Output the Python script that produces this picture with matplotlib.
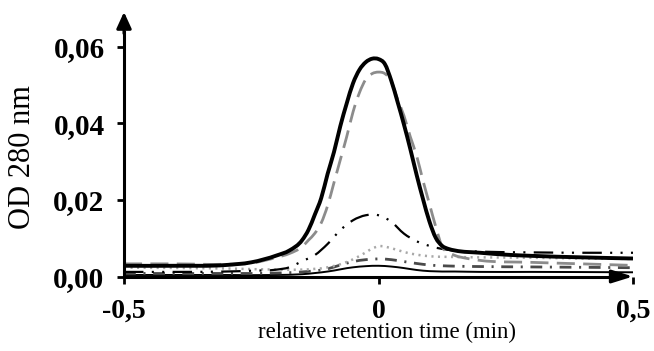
import matplotlib
matplotlib.use("Agg")
import matplotlib.pyplot as plt
from matplotlib.path import Path
from matplotlib.patches import PathPatch

plt.rcParams['font.family'] = ['Liberation Serif', 'DejaVu Serif']
plt.rcParams['lines.scale_dashes'] = False

# ---- data ----
x_black = [-0.5, -0.4, -0.3, -0.25, -0.2, -0.175, -0.15, -0.1375, -0.125, -0.1125, -0.1,
           -0.0875, -0.075, -0.0625, -0.05, -0.0375, -0.025, -0.0125, 0.0, 0.0125, 0.025,
           0.0375, 0.05, 0.0625, 0.075, 0.0875, 0.1, 0.1125, 0.125, 0.1375, 0.15, 0.2,
           0.25, 0.3, 0.4, 0.5]
y_black = [0.0028, 0.0028, 0.0030, 0.0037, 0.0055, 0.0068, 0.0095, 0.0122, 0.0162, 0.0205, 0.0268,
           0.0325, 0.0393, 0.0452, 0.0505, 0.0540, 0.0560, 0.0569, 0.0568, 0.0555, 0.0512,
           0.0456, 0.0397, 0.0333, 0.0265, 0.0202, 0.0144, 0.0101, 0.0080, 0.0072, 0.0068, 0.0062,
           0.0057, 0.0054, 0.0050, 0.0047]

x_gray = [-0.5, -0.4, -0.3, -0.25, -0.2, -0.175, -0.15, -0.1375, -0.125, -0.1125, -0.1,
          -0.0875, -0.075, -0.0625, -0.05, -0.0375, -0.025, -0.0125, 0.0, 0.0125, 0.025,
          0.0375, 0.05, 0.0625, 0.075, 0.0875, 0.1, 0.1125, 0.125, 0.1375, 0.15, 0.175,
          0.2, 0.3, 0.4, 0.5]
y_gray = [0.0033, 0.0033, 0.0032, 0.0035, 0.0050, 0.0060, 0.0078, 0.0095, 0.0113, 0.0140, 0.0185,
          0.0245, 0.0305, 0.0365, 0.0430, 0.0480, 0.0515, 0.0530, 0.0534, 0.0530, 0.0510,
          0.0463, 0.0420, 0.0365, 0.0315, 0.0250, 0.0190, 0.0130, 0.0078, 0.0063, 0.0055, 0.0047,
          0.0042, 0.0037, 0.0033, 0.0029]

x_ddot = [-0.5, -0.4, -0.3, -0.25, -0.2, -0.175, -0.15, -0.125, -0.1, -0.075, -0.05, -0.025,
          0.0, 0.025, 0.05, 0.075, 0.1, 0.125, 0.15, 0.2, 0.3, 0.4, 0.5]
y_ddot = [0.0012, 0.0012, 0.0013, 0.0015, 0.0018, 0.0024, 0.0040, 0.0056, 0.0085, 0.0121, 0.0147, 0.0160,
          0.0160, 0.0143, 0.0112, 0.0092, 0.0080, 0.0072, 0.0068, 0.0065, 0.0063, 0.0062, 0.0062]

x_dot = [-0.5, -0.3, -0.2, -0.15, -0.1, -0.075, -0.05, -0.025, -0.0125, 0.0, 0.025, 0.05, 0.075,
         0.1, 0.15, 0.2, 0.3, 0.4, 0.5]
y_dot = [0.0023, 0.0021, 0.0018, 0.0018, 0.0024, 0.0032, 0.0045, 0.0063, 0.0073, 0.0079, 0.0074, 0.0064, 0.0057,
         0.0053, 0.0051, 0.0050, 0.0049, 0.0047, 0.0046]

x_dash = [-0.5, -0.3, -0.2, -0.15, -0.1, -0.075, -0.05, -0.025, 0.0, 0.025, 0.05, 0.075, 0.1,
          0.15, 0.2, 0.3, 0.4, 0.5]
y_dash = [0.0008, 0.0008, 0.0009, 0.0012, 0.0020, 0.0030, 0.0039, 0.0044, 0.0046, 0.0044, 0.0039, 0.0034, 0.0030,
          0.0027, 0.0026, 0.0025, 0.0024, 0.0023]

x_thin = [-0.5, -0.3, -0.2, -0.15, -0.1, -0.05, -0.025, 0.0, 0.025, 0.05, 0.075, 0.1, 0.15, 0.2,
          0.3, 0.5]
y_thin = [0.0004, 0.0004, 0.0004, 0.0006, 0.0013, 0.0024, 0.0027, 0.0028, 0.0026, 0.0022, 0.0017, 0.0014,
          0.0013, 0.0012, 0.0012, 0.0011]

x_ticks = [-0.5, 0.0, 0.5]
x_ticklabels = ['-0,5', '0', '0,5']
y_ticks = [0.0, 0.02, 0.04, 0.06]
y_ticklabels = ['0,00', '0,02', '0,04', '0,06']


def smooth_path(xs, ys):
    """Smoothed line (like a spreadsheet 'smoothed line') through the data points,
    built as cubic Bezier segments in data coordinates."""
    n = len(xs)
    h = [xs[i + 1] - xs[i] for i in range(n - 1)]
    d = [(ys[i + 1] - ys[i]) / h[i] for i in range(n - 1)]
    m = [0.0] * n
    m[0], m[-1] = d[0], d[-1]
    for i in range(1, n - 1):
        m[i] = (h[i - 1] * d[i] + h[i] * d[i - 1]) / (h[i - 1] + h[i])
    verts = [(xs[0], ys[0])]
    codes = [Path.MOVETO]
    for i in range(n - 1):
        verts += [(xs[i] + h[i] / 3, ys[i] + m[i] * h[i] / 3),
                  (xs[i + 1] - h[i] / 3, ys[i + 1] - m[i + 1] * h[i] / 3),
                  (xs[i + 1], ys[i + 1])]
        codes += [Path.CURVE4] * 3
    return Path(verts, codes)


# ---- figure ----
W, H = 654, 351
fig = plt.figure(figsize=(W / 100, H / 100), dpi=100)
left, right, bottom, top = 124, 633, 276.5, 12
ax = fig.add_axes([left / W, 1 - bottom / H, (right - left) / W, (bottom - top) / H])
YMAX = 0.0691
ax.set_xlim(-0.5, 0.5)
ax.set_ylim(0, YMAX)

series = [
    (x_thin, y_thin, 'black', 1.4, '-'),
    (x_dash, y_dash, '#4a4a4a', 2.0, (0, (8.5, 5.5, 1.5, 5.5))),
    (x_dot, y_dot, '#a8a8a8', 1.8, (0, (1.5, 3.2))),
    (x_ddot, y_ddot, 'black', 1.6, (0, (14, 6, 1.5, 6, 1.5, 6))),
    (x_gray, y_gray, '#8c8c8c', 2.0, (0, (13, 6))),
    (x_black, y_black, 'black', 2.8, '-'),
]
for xs, ys, col, lw, ls in series:
    ax.add_patch(PathPatch(smooth_path(xs, ys), fill=False, edgecolor=col, lw=lw,
                           linestyle=ls, capstyle='butt', joinstyle='round'))

for s in ['top', 'right']:
    ax.spines[s].set_visible(False)
for s in ['left', 'bottom']:
    ax.spines[s].set_linewidth(2.2)
ax.spines['left'].set_bounds(0, 0.064)
ax.spines['bottom'].set_bounds(-0.5, 0.47)

ax.annotate('', xy=(-0.5, YMAX), xytext=(-0.5, 0.0635), annotation_clip=False,
            arrowprops=dict(arrowstyle='-|>,head_length=0.7,head_width=0.32',
                            color='black', lw=2.2, mutation_scale=14, shrinkA=0, shrinkB=0))
ax.annotate('', xy=(0.5, 0), xytext=(0.465, 0), annotation_clip=False,
            arrowprops=dict(arrowstyle='-|>,head_length=0.9,head_width=0.28',
                            color='black', lw=2.2, mutation_scale=14, shrinkA=0, shrinkB=0))

ax.set_xticks(x_ticks)
ax.set_xticklabels(x_ticklabels, fontsize=20, fontweight='bold')
ax.set_yticks(y_ticks)
ax.set_yticklabels(y_ticklabels, fontsize=21, fontweight='bold')
ax.tick_params(axis='both', direction='out', length=5, width=2.0)
ax.tick_params(axis='x', pad=11)
ax.tick_params(axis='y', pad=9)

fig.text(386.7 / W, 1 - 338 / H, 'relative retention time (min)', fontsize=16.5,
         ha='center', va='baseline')
fig.text(23 / W, 1 - 157.5 / H, 'OD 280 nm', fontsize=22, rotation=90,
         ha='center', va='center')

fig.savefig('out.png', dpi=100)
